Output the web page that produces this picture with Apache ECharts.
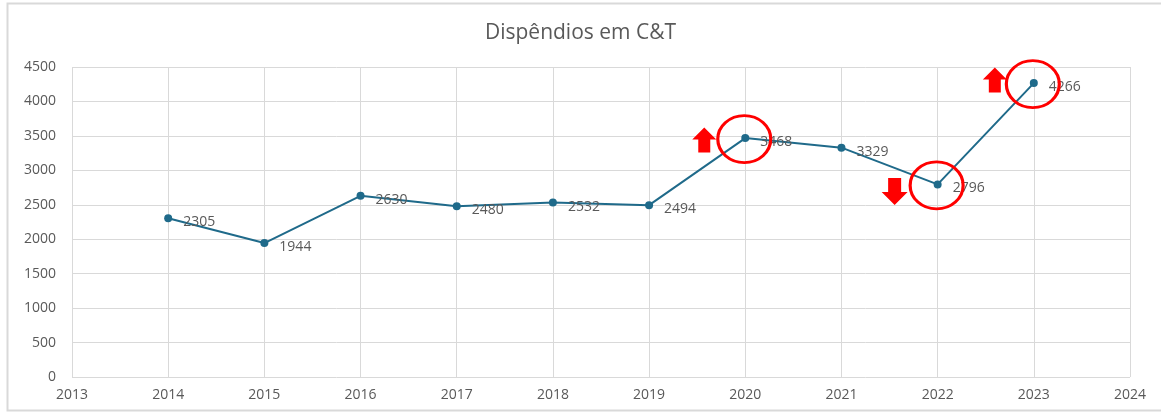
<!DOCTYPE html>
<html><head><meta charset="utf-8">
<script src="https://cdn.jsdelivr.net/npm/echarts@6/dist/echarts.min.js"></script>
<style>html,body{margin:0;padding:0;background:#fff}#c{width:1161px;height:416px}</style>
</head><body><div id="c"></div>
<script>
const years = [2014, 2015, 2016, 2017, 2018, 2019, 2020, 2021, 2022, 2023];
const values = [2305, 1944, 2630, 2480, 2532, 2494, 3468, 3329, 2796, 4266];
const titleText = 'Dispêndios em C&T';
const highlightUp = [2020, 2023];
const highlightDown = [2022];

const lineData = years.map((y, i) => [y, values[i]]);
const valOf = y => values[years.indexOf(y)];
const circleData = highlightUp.concat(highlightDown).map(y => [y, valOf(y)]);
const upOffsets = [[-41, 2], [-39, -3]];
const upData = highlightUp.map((y, i) => ({value: [y, valOf(y)], symbolOffset: upOffsets[i]}));
const downData = highlightDown.map(y => ({value: [y, valOf(y)], symbolOffset: [-43, 7]}));

const arrowUp = 'path://M12,0 L24,12 L18,12 L18,25 L6,25 L6,12 L0,12 Z';
const arrowDown = 'path://M6,0 L18,0 L18,13 L24,13 L12,25 L0,13 L6,13 Z';
const grey = '#595959';
const font = '"Open Sans", sans-serif';

const chart = echarts.init(document.getElementById('c'));
chart.setOption({
  animation: false,
  backgroundColor: '#fff',
  graphic: [{
    type: 'rect', shape: {x: 7.5, y: 3.5, width: 1160, height: 407},
    style: {fill: 'none', stroke: '#d9d9d9', lineWidth: 2}, silent: true, z: -1
  }],
  title: {
    text: titleText, left: 'center', top: 18,
    textStyle: {fontFamily: font, fontSize: 21, fontWeight: 'normal', color: grey}
  },
  grid: {left: 72, right: 31, top: 67, bottom: 39},
  xAxis: {
    type: 'value', min: 2013, max: 2024, interval: 1,
    axisLine: {show: false}, axisTick: {show: false},
    splitLine: {show: true, lineStyle: {color: '#d9d9d9', width: 1}},
    axisLabel: {color: grey, fontSize: 14, margin: 11, fontFamily: font, formatter: v => String(v)}
  },
  yAxis: {
    type: 'value', min: 0, max: 4500, interval: 500,
    axisLine: {show: false}, axisTick: {show: false},
    splitLine: {show: true, lineStyle: {color: '#d9d9d9', width: 1}},
    axisLabel: {color: grey, fontSize: 14, margin: 16, fontFamily: font, formatter: v => String(v)}
  },
  series: [
    {
      type: 'line', data: lineData, z: 3,
      lineStyle: {color: '#1f6a8a', width: 2},
      itemStyle: {color: '#1f6a8a'},
      symbol: 'circle', symbolSize: 8,
      label: {show: true, position: 'right', offset: [6, 4], color: grey, fontSize: 14, fontFamily: font,
              formatter: p => String(p.value[1])}
    },
    {
      type: 'scatter', data: circleData, z: 4, silent: true,
      symbol: 'circle', symbolSize: [53, 47], symbolOffset: [-1, 1],
      itemStyle: {color: 'rgba(0,0,0,0)', borderColor: '#ff0000', borderWidth: 3, opacity: 1}
    },
    {
      type: 'scatter', data: upData, z: 4, silent: true,
      symbol: arrowUp, symbolSize: [24, 25],
      itemStyle: {color: '#ff0000', opacity: 1}
    },
    {
      type: 'scatter', data: downData, z: 4, silent: true,
      symbol: arrowDown, symbolSize: [26, 27],
      itemStyle: {color: '#ff0000', opacity: 1}
    }
  ]
});
</script></body></html>
